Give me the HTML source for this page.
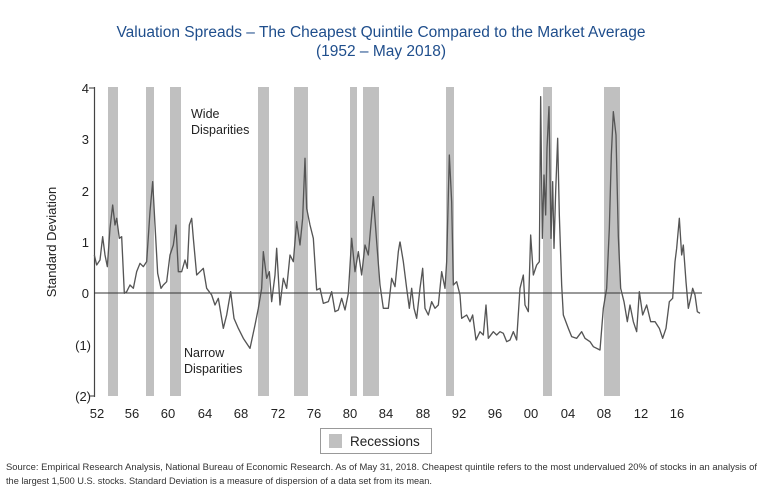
<!DOCTYPE html>
<html><head><meta charset="utf-8"><style>
html,body{margin:0;padding:0;background:#fff;}
svg{display:block;font-family:"Liberation Sans",Arial,sans-serif;}
</style></head><body>
<svg width="763" height="504" viewBox="0 0 763 504" xmlns="http://www.w3.org/2000/svg">
<rect width="763" height="504" fill="#fff"/>
<text x="381" y="37" text-anchor="middle" font-size="15.5" fill="#1f4e8c">Valuation Spreads – The Cheapest Quintile Compared to the Market Average</text>
<text x="381" y="56" text-anchor="middle" font-size="15.5" fill="#1f4e8c">(1952 – May 2018)</text>
<g fill="#c0c0c0">
<rect x="108" y="87" width="10" height="309"/>
<rect x="146" y="87" width="8" height="309"/>
<rect x="170" y="87" width="11" height="309"/>
<rect x="258" y="87" width="11" height="309"/>
<rect x="294" y="87" width="14" height="309"/>
<rect x="350" y="87" width="7" height="309"/>
<rect x="363" y="87" width="16" height="309"/>
<rect x="446" y="87" width="8" height="309"/>
<rect x="543" y="87" width="9" height="309"/>
<rect x="604" y="87" width="16" height="309"/>
</g>
<line x1="94.5" y1="87" x2="94.5" y2="397" stroke="#444" stroke-width="1.2"/>
<line x1="94" y1="293" x2="702" y2="293" stroke="#333" stroke-width="1"/>
<g font-size="13" fill="#222" text-anchor="end">
<text x="89" y="93">4</text><text x="89" y="144">3</text><text x="89" y="196">2</text>
<text x="89" y="247">1</text><text x="89" y="298">0</text><text x="91" y="350">(1)</text><text x="91" y="401">(2)</text>
</g>
<g stroke="#333" stroke-width="1"><line x1="89" y1="88" x2="94" y2="88"/><line x1="89" y1="396" x2="94" y2="396"/></g>
<text transform="translate(56,242) rotate(-90)" text-anchor="middle" font-size="13" fill="#222">Standard Deviation</text>
<text x="191" y="118" font-size="12.5" fill="#222">Wide</text>
<text x="191" y="134" font-size="12.5" fill="#222">Disparities</text>
<text x="184" y="357" font-size="12.5" fill="#222">Narrow</text>
<text x="184" y="373" font-size="12.5" fill="#222">Disparities</text>
<g font-size="13" fill="#222" text-anchor="middle">
<text x="97" y="418">52</text><text x="132" y="418">56</text><text x="168" y="418">60</text><text x="205" y="418">64</text>
<text x="241" y="418">68</text><text x="278" y="418">72</text><text x="314" y="418">76</text><text x="350" y="418">80</text>
<text x="386" y="418">84</text><text x="423" y="418">88</text><text x="459" y="418">92</text><text x="495" y="418">96</text>
<text x="531" y="418">00</text><text x="568" y="418">04</text><text x="604" y="418">08</text><text x="641" y="418">12</text><text x="677" y="418">16</text>
</g>
<g fill="none" stroke="#555" stroke-width="4" stroke-linejoin="round">
<polyline transform="translate(30,75) scale(0.33333)" points="193,540 200,570 210,555 218,485 225,540 232,575 240,460 248,390 255,450 260,430 268,490 275,485 283,655 290,650 300,630 310,640 320,590 330,565 340,575 350,560 360,410 368,320 375,450 383,595 393,640 400,630 410,620 420,540 430,510 438,450 445,590 455,590 465,555 472,580 478,450 485,430 490,490 500,600 510,590 520,580 530,640 545,660 555,690 565,670 580,760 590,720 602,650 612,730 625,760 640,790 660,820 675,750 685,700 695,640 700,530 710,610 718,590 725,680 735,600 740,520 750,690 760,610 770,640 780,540 790,560 800,440 810,510 818,430 825,250 830,400 840,450 850,490 860,645 870,640 880,685 895,680 905,650 915,710 925,705 935,670 945,705 955,655 965,490 975,590 985,530 995,600 1005,510 1015,540 1030,365 1040,500 1050,630 1060,700 1075,700 1085,610 1095,635 1105,530 1110,500"/>
<polyline transform="translate(400,75) scale(0.33333)" points="0,500 10,560 20,640 28,700 35,640 42,700 50,730 60,640 68,580 75,700 85,720 95,680 105,700 115,690 125,590 135,640 140,560 148,240 155,380 160,630 170,620 180,660 185,730 200,720 210,740 218,720 228,795 240,770 250,780 258,690 265,790 280,770 290,780 300,770 310,775 320,800 330,795 340,770 350,795 360,640 370,600 375,690 385,710 392,480 400,600 410,570 418,560 422,65 427,490 432,300 437,420 441,220 447,95 453,490 458,320 462,520 467,350 473,190 478,420 485,630 490,720 505,760 515,785 530,790 545,770 555,790 570,800 580,815 600,825 610,700 620,640 628,460 634,240 640,110 648,180 655,485 662,640 672,680 682,740 690,690 700,740 710,770 718,650 728,720 740,690 752,740 765,740 778,760 788,790 798,760 808,680 818,670 825,560 830,520 838,430 845,540 850,510 858,620 865,700 872,670 878,640 885,660 892,710 900,715"/>
</g>
<rect x="320.5" y="428.5" width="111" height="25" fill="#fff" stroke="#999" stroke-width="1"/>
<rect x="329" y="434" width="13" height="14" fill="#c0c0c0"/>
<text x="350" y="446" font-size="13.5" fill="#222">Recessions</text>
<text x="6" y="470" font-size="9.6" fill="#333" textLength="751" lengthAdjust="spacingAndGlyphs">Source: Empirical Research Analysis, National Bureau of Economic Research. As of May 31, 2018. Cheapest quintile refers to the most undervalued 20% of stocks in an analysis of</text>
<text x="6" y="484" font-size="9.6" fill="#333" textLength="426" lengthAdjust="spacingAndGlyphs">the largest 1,500 U.S. stocks. Standard Deviation is a measure of dispersion of a data set from its mean.</text>
</svg>
</body></html>
